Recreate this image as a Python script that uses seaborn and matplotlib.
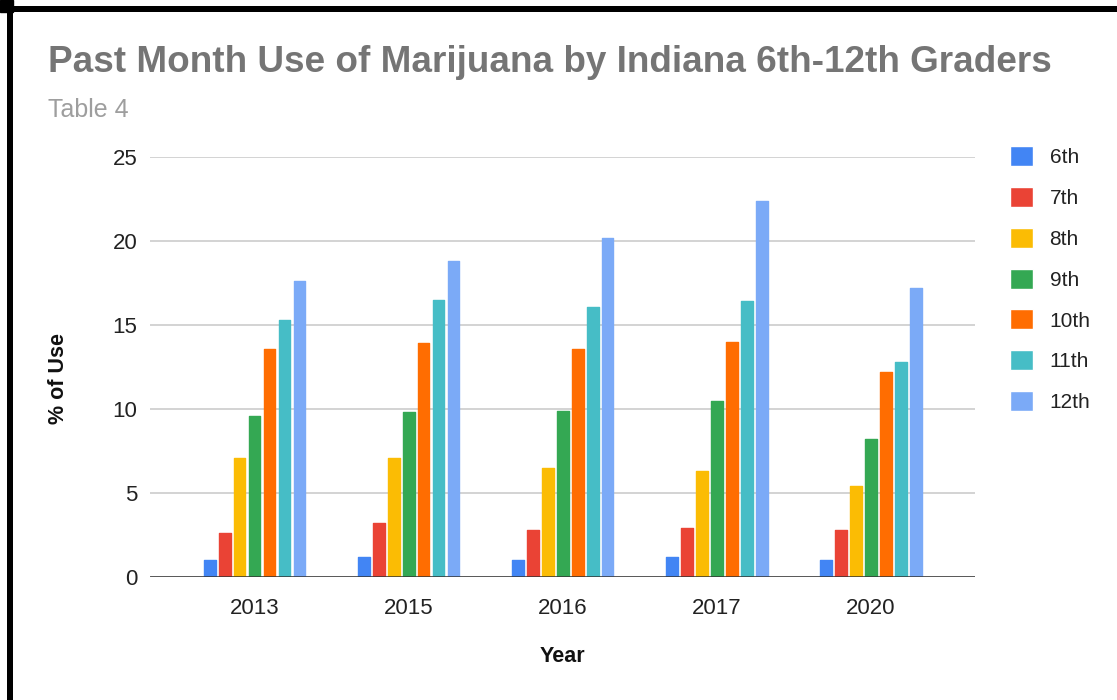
import matplotlib
matplotlib.use("Agg")
import matplotlib.pyplot as plt
from matplotlib.lines import Line2D
from matplotlib.patches import Rectangle
import seaborn as sns
import pandas as pd

# Survey years and grade levels
years = ["2013", "2015", "2016", "2017", "2020"]
grades = ["6th", "7th", "8th", "9th", "10th", "11th", "12th"]

# Percent reporting past-month marijuana use, one list per grade
g6 = [1.0, 1.2, 1.0, 1.2, 1.0]
g7 = [2.6, 3.2, 2.8, 2.9, 2.8]
g8 = [7.1, 7.1, 6.5, 6.3, 5.4]
g9 = [9.6, 9.8, 9.9, 10.5, 8.2]
g10 = [13.6, 13.9, 13.6, 14.0, 12.2]
g11 = [15.3, 16.5, 16.1, 16.4, 12.8]
g12 = [17.6, 18.8, 20.2, 22.4, 17.2]

y_ticks = [0, 5, 10, 15, 20, 25]

colors = ["#4285F4", "#EA4335", "#FBBC04", "#34A853",
          "#FF6D01", "#46BDC6", "#7BAAF7"]

series = [g6, g7, g8, g9, g10, g11, g12]
rows = []
for grade, vals in zip(grades, series):
    for yr, v in zip(years, vals):
        rows.append({"Year": yr, "Grade": grade, "Use": v})
df = pd.DataFrame(rows)

sns.set_theme(style="white")
plt.rcParams["font.family"] = ["Liberation Sans", "DejaVu Sans"]

W, H = 1117, 700
fig = plt.figure(figsize=(W / 100, H / 100), dpi=100)
fig.patch.set_facecolor("white")

# plot area in pixel terms: x 150..975, y 157..577
ax = fig.add_axes([150 / W, 1 - 577 / H, 825 / W, 420 / H])

sns.barplot(data=df, x="Year", y="Use", hue="Grade", order=years,
            hue_order=grades, palette=colors, saturation=1,
            width=0.68, gap=0.24, ax=ax, errorbar=None)

for bar in ax.patches:
    bar.set_edgecolor(bar.get_facecolor())
    bar.set_linewidth(1.0)
    bar.set_joinstyle("round")

ax.set_ylim(0, 25)
ax.set_xlim(-0.68, 4.675)
ax.set_yticks(y_ticks)
ax.set_yticklabels([str(t) for t in y_ticks])
ax.yaxis.grid(True, color="#cccccc", linewidth=1.2)
ax.set_axisbelow(True)
for s in ax.spines.values():
    s.set_visible(False)
ax.axhline(0, color="#333333", linewidth=1.8, zorder=4)
ax.tick_params(axis="both", length=0, labelsize=16, labelcolor="#222222")
ax.tick_params(axis="y", pad=9)
ax.tick_params(axis="x", pad=15)

ax.set_xlabel("Year", fontsize=15.5, fontweight="bold", color="#111111")
ax.set_ylabel("% of Use", fontsize=15.5, fontweight="bold", color="#111111")
ax.xaxis.set_label_coords(0.5, (577 - 656) / 420)
ax.xaxis.label.set_va("center")
ax.yaxis.set_label_coords((58 - 150) / 825, (577 - 378) / 420)
ax.yaxis.label.set_va("center")
ax.yaxis.label.set_ha("center")

sns.move_legend(ax, "upper left", bbox_to_anchor=(1010 / W, 1 - 146 / H),
                bbox_transform=fig.transFigure, frameon=False, title=None,
                fontsize=15, handlelength=1.1, handleheight=1.1,
                handletextpad=0.8, labelspacing=0.95, borderpad=0,
                borderaxespad=0, labelcolor="#222222")

fig.text(48 / W, 1 - 63 / H,
         "Past Month Use of Marijuana by Indiana 6th-12th Graders",
         fontsize=26.6, fontweight="bold", color="#757575", va="center", ha="left")
fig.text(48 / W, 1 - 110 / H, "Table 4", fontsize=18, color="#9e9e9e",
         va="center", ha="left")

# black frame along the top and left edges
fig.add_artist(Line2D([0, 1], [1 - 9 / H, 1 - 9 / H], transform=fig.transFigure,
                      color="black", linewidth=6 * 0.72, solid_capstyle="butt"))
fig.add_artist(Line2D([10 / W, 10 / W], [0, 1], transform=fig.transFigure,
                      color="black", linewidth=6 * 0.72, solid_capstyle="butt"))
fig.add_artist(Rectangle((0, 1 - 12 / H), 13 / W, 12 / H,
                         transform=fig.transFigure, color="black"))

fig.savefig("out.png", dpi=100)
